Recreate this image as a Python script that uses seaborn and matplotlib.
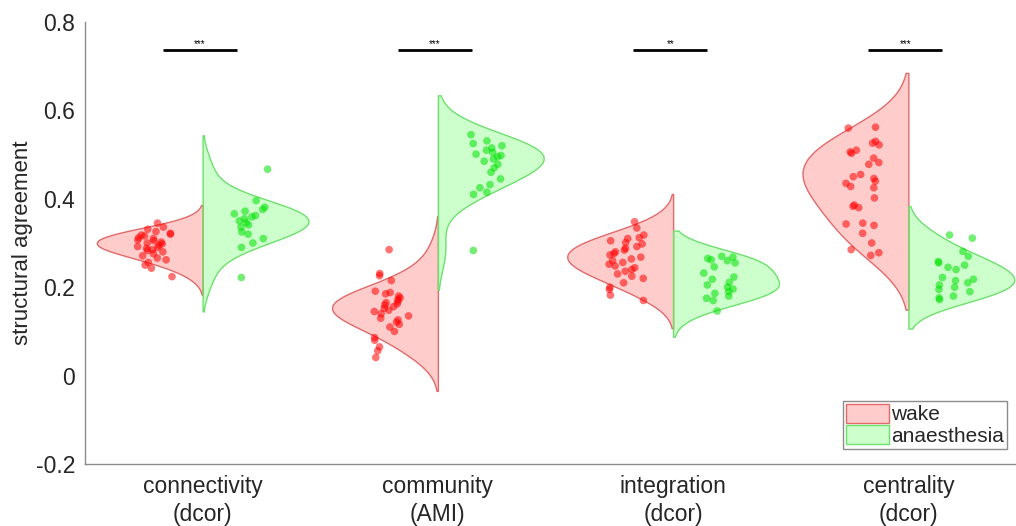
import numpy as np
import pandas as pd
import matplotlib
matplotlib.use("Agg")
import matplotlib.pyplot as plt
from matplotlib.patches import Patch
from matplotlib.collections import PolyCollection
import seaborn as sns

# ---- data -------------------------------------------------------------
measures = ["connectivity", "community", "integration", "centrality"]
tick_labels = ["connectivity\n(dcor)", "community\n(AMI)", "integration\n(dcor)", "centrality\n(dcor)"]
states = ["wake", "anaesthesia"]

connectivity_wake = [0.345, 0.336, 0.331, 0.326, 0.322, 0.320, 0.318, 0.316, 0.312, 0.310,
                     0.307, 0.305, 0.302, 0.300, 0.298, 0.295, 0.292, 0.290, 0.288, 0.285,
                     0.283, 0.280, 0.276, 0.271, 0.266, 0.262, 0.256, 0.250, 0.243, 0.224]
connectivity_anaes = [0.467, 0.396, 0.381, 0.376, 0.372, 0.366, 0.362, 0.359, 0.355, 0.350,
                      0.346, 0.341, 0.336, 0.325, 0.320, 0.310, 0.300, 0.290, 0.222]
community_wake = [0.285, 0.231, 0.226, 0.215, 0.191, 0.188, 0.185, 0.180, 0.176, 0.172,
                  0.168, 0.165, 0.162, 0.160, 0.156, 0.152, 0.148, 0.145, 0.140, 0.135,
                  0.130, 0.126, 0.121, 0.116, 0.110, 0.100, 0.086, 0.080, 0.065, 0.056, 0.041]
community_anaes = [0.545, 0.531, 0.525, 0.520, 0.515, 0.510, 0.505, 0.501, 0.498, 0.495,
                   0.490, 0.485, 0.478, 0.470, 0.460, 0.445, 0.432, 0.425, 0.415, 0.410, 0.283]
integration_wake = [0.348, 0.334, 0.318, 0.312, 0.310, 0.305, 0.301, 0.298, 0.292, 0.288,
                    0.284, 0.280, 0.276, 0.273, 0.268, 0.264, 0.260, 0.256, 0.252, 0.248,
                    0.244, 0.240, 0.236, 0.230, 0.225, 0.220, 0.210, 0.200, 0.195, 0.182, 0.170]
integration_anaes = [0.270, 0.268, 0.265, 0.262, 0.260, 0.255, 0.246, 0.232, 0.223, 0.218,
                     0.211, 0.205, 0.200, 0.196, 0.190, 0.186, 0.180, 0.175, 0.170, 0.146]
centrality_wake = [0.562, 0.560, 0.530, 0.526, 0.522, 0.510, 0.506, 0.503, 0.492, 0.482,
                   0.478, 0.455, 0.450, 0.446, 0.440, 0.435, 0.428, 0.425, 0.402, 0.386,
                   0.383, 0.380, 0.345, 0.343, 0.340, 0.322, 0.300, 0.285, 0.278, 0.272]
centrality_anaes = [0.318, 0.311, 0.281, 0.270, 0.258, 0.255, 0.250, 0.245, 0.240, 0.222,
                    0.218, 0.215, 0.210, 0.205, 0.200, 0.195, 0.190, 0.180, 0.176, 0.172]

significance = ["***", "***", "**", "***"]
y_ticks = [-0.2, 0, 0.2, 0.4, 0.6, 0.8]
y_tick_labels = ["-0.2", "0", "0.2", "0.4", "0.6", "0.8"]

series = {
    ("connectivity", "wake"): connectivity_wake,
    ("connectivity", "anaesthesia"): connectivity_anaes,
    ("community", "wake"): community_wake,
    ("community", "anaesthesia"): community_anaes,
    ("integration", "wake"): integration_wake,
    ("integration", "anaesthesia"): integration_anaes,
    ("centrality", "wake"): centrality_wake,
    ("centrality", "anaesthesia"): centrality_anaes,
}
rows = []
for (m, s), vals in series.items():
    for v in vals:
        rows.append({"measure": m, "state": s, "value": v})
df = pd.DataFrame(rows)

# ---- style ------------------------------------------------------------
sns.set_style("white")
plt.rcParams["font.family"] = ["Liberation Sans", "DejaVu Sans"]

fill = {"wake": (1.0, 0.0, 0.0), "anaesthesia": (0.0, 1.0, 0.0)}
edge = {"wake": "#e26a6a", "anaesthesia": "#6ee06e"}
dots = {"wake": (1.0, 0.0, 0.0), "anaesthesia": (0.0, 0.88, 0.0)}
axis_grey = "#8c8c8c"

fig = plt.figure(figsize=(10.16, 5.26), dpi=100)
ax = fig.add_axes([85 / 1016, 62 / 526, 941 / 1016, 442 / 526])

sns.violinplot(data=df, x="measure", y="value", hue="state",
               order=measures, hue_order=states, split=True, inner=None,
               density_norm="width", width=0.9, bw_adjust=1.4, cut=2,
               palette=fill, saturation=1, linewidth=1.0, legend=False, ax=ax)

for coll in ax.collections:
    if isinstance(coll, PolyCollection):
        fc = coll.get_facecolor()[0]
        key = "wake" if fc[0] > fc[1] else "anaesthesia"
        coll.set_facecolor((*fill[key], 0.2))
        coll.set_edgecolor(edge[key])
        coll.set_linewidth(1.0)

np.random.seed(3)
sns.stripplot(data=df, x="measure", y="value", hue="state",
              order=measures, hue_order=states, dodge=True, jitter=0.16,
              palette=dots, size=5.5, alpha=0.55, linewidth=0, legend=False, ax=ax)

# significance bars
for i, star in enumerate(significance):
    ax.plot([i - 0.17, i + 0.145], [0.737, 0.737], color="black", lw=2,
            solid_capstyle="butt")
    ax.text(i - 0.012, 0.739, star, ha="center", va="bottom", fontsize=7, color="black")

ax.set_xlim(-0.5, 3.5)
ax.set_ylim(-0.2, 0.8)
ax.set_yticks(y_ticks)
ax.set_yticklabels(y_tick_labels)
ax.set_xticks(range(len(measures)))
ax.set_xticklabels(tick_labels, linespacing=1.25)
ax.set_xlabel("")
ax.set_ylabel("structural agreement", fontsize=16, color="#262626", labelpad=2)

for side in ["top", "right"]:
    ax.spines[side].set_visible(False)
for side in ["left", "bottom"]:
    ax.spines[side].set_color(axis_grey)
    ax.spines[side].set_linewidth(1.0)
ax.tick_params(axis="both", direction="in", length=5, width=1.0, color=axis_grey,
               labelsize=16.5, labelcolor="#262626")
ax.tick_params(axis="x", pad=8)
ax.tick_params(axis="y", pad=7)

handles = [Patch(facecolor=(*fill[s], 0.2), edgecolor=edge[s], linewidth=1.0, label=s)
           for s in states]
leg = ax.legend(handles=handles, loc="lower left", bbox_to_anchor=(0.805, 0.034),
                fontsize=15, frameon=True, fancybox=False, framealpha=1,
                edgecolor=axis_grey, borderpad=0.15, labelspacing=0.05,
                handlelength=2.1, handleheight=1.0, handletextpad=0.1,
                borderaxespad=0)
leg.get_frame().set_linewidth(1.0)
for t in leg.get_texts():
    t.set_color("#262626")

fig.savefig("out.png", dpi=100)
